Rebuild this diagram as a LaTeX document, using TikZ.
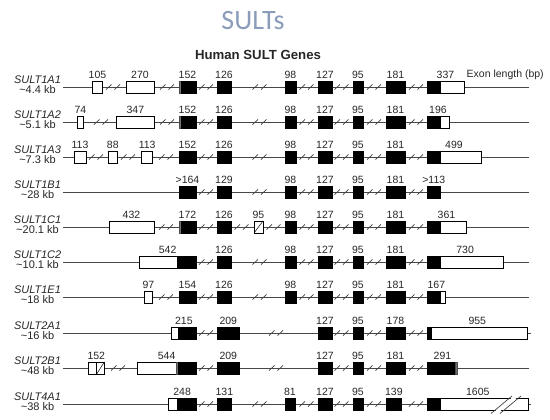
\documentclass[tikz,border=0pt]{standalone}
\usepackage{fontspec}
\setmainfont{Liberation Sans}
\newfontfamily\titlefont{Carlito}
\definecolor{titleblue}{RGB}{138,156,186}

% one exon box, with its length written above it
\newcommand\exonbox[5]{% name, left, right, style, label
  \node[#4, minimum width={(#3)-(#2)}] (#1) at ({((#2)+(#3))/2},\ry) {};
  \node[num] (#1l) at ({((#2)+(#3))/2},\ry-12.5) {#5};}
% an exon made of two parts (coding / non-coding)
\newcommand\exonpair[7]{% name, left, split, right, left style, right style, label
  \node[#5, minimum width={(#3)-(#2)}] (#1a) at ({((#2)+(#3))/2},\ry) {};
  \node[#6, minimum width={(#4)-(#3)}] (#1b) at ({((#3)+(#4))/2},\ry) {};
  \node[num] (#1l) at ({((#2)+(#4))/2},\ry-12.5) {#7};}
% the // mark of a shortened intron
\newcommand\introncut[1]{%
  \draw[cut] ({#1-7},\ry+2.6) -- ({#1-1.5},\ry-2.6) ({#1+1.5},\ry+2.6) -- ({#1+7},\ry-2.6);}
% gene backbone with its name and size
\newcommand\generow[4]{% id, name, size, right end
  \coordinate (#1s) at (63,\ry);
  \coordinate (#1t) at (#4,\ry);
  \draw[backbone] (#1s) -- (#1t);
  \node[gname] (#1n) at (37.5,\ry-7) {#2};
  \node[gsize] (#1k) at (37.5,\ry+3) {\textasciitilde#3};}
% the exons shared by most SULT1 genes
\newcommand\commonright[1]{%
  \exonbox{#1e98}{285}{296}{exB}{98}
  \exonbox{#1e127}{318}{332}{exB}{127}
  \exonbox{#1e95}{353}{363}{exB}{95}
  \exonbox{#1e181}{386}{405}{exB}{181}
  \introncut{306.5}\introncut{341.5}\introncut{374}\introncut{416}}

\begin{document}
\begin{tikzpicture}[x=1pt,y=-1pt,
  backbone/.style={draw=black!72, line width=0.9pt},
  exW/.style={draw=black, line width=0.6pt, fill=white, inner sep=0pt, outer sep=0pt, minimum height=12},
  exB/.style={exW, fill=black},
  exG/.style={exW, fill=black!55, draw=black!70},
  cut/.style={draw=black!75, line width=0.7pt},
  num/.style={font=\fontsize{10.5}{12}\selectfont, text=black!85, inner sep=0pt},
  gname/.style={font=\fontsize{11}{13}\selectfont\itshape, text=black!85, inner sep=0pt},
  gsize/.style={font=\fontsize{11}{13}\selectfont, text=black!85, inner sep=0pt}]
\useasboundingbox (0,0) rectangle (550,420);

\node[font=\fontsize{28}{30}\selectfont\titlefont, text=titleblue, inner sep=0pt] (title) at (253,20.5) {SULTs};
\node[font=\fontsize{13.2}{15}\selectfont\bfseries, text=black!85, inner sep=0pt] (head) at (258,55) {Human SULT Genes};
\node[num, anchor=west] (unit) at (466.5,74.5) {Exon length (bp)};

% SULT1A1
\def\ry{87}
\generow{a1}{SULT1A1}{4.4 kb}{529}
\exonbox{a1e1}{92.3}{102.7}{exW}{105}
\exonbox{a1e2}{126}{154}{exW}{270}
\exonpair{a1e3}{179}{181.5}{196}{exG}{exB}{152}
\exonbox{a1e4}{217}{231}{exB}{126}
\commonright{a1}
\exonpair{a1e9}{427}{440.5}{464}{exB}{exW}{337}
\introncut{113}\introncut{167}\introncut{206}\introncut{259.5}

% SULT1A2
\def\ry{122}
\generow{a2}{SULT1A2}{5.1 kb}{529}
\exonbox{a2e1}{77.7}{83.3}{exW}{74}
\exonbox{a2e2}{116.7}{154}{exW}{347}
\exonpair{a2e3}{179}{181.5}{196}{exG}{exB}{152}
\exonbox{a2e4}{217}{231}{exB}{126}
\commonright{a2}
\exonpair{a2e9}{427}{440.5}{449}{exB}{exW}{196}
\introncut{101}\introncut{167}\introncut{206}\introncut{259.5}

% SULT1A3
\def\ry{157}
\generow{a3}{SULT1A3}{7.3 kb}{529}
\exonbox{a3e1}{74}{86}{exW}{113}
\exonbox{a3e2}{108.3}{117.3}{exW}{88}
\exonbox{a3e3}{141.7}{152.7}{exW}{113}
\exonbox{a3e4}{179}{196}{exB}{152}
\exonbox{a3e5}{217}{231}{exB}{126}
\commonright{a3}
\exonpair{a3e9}{427}{440.5}{481}{exB}{exW}{499}
\introncut{96}\introncut{128}\introncut{166}\introncut{206}\introncut{259.5}

% SULT1B1
\def\ry{192}
\generow{b1}{SULT1B1}{28 kb}{529}
\exonbox{b1e1}{179}{196}{exB}{>164}
\exonbox{b1e2}{217}{231}{exB}{129}
\commonright{b1}
\exonbox{b1e7}{427}{440.5}{exB}{>113}
\introncut{206}\introncut{259.5}

% SULT1C1
\def\ry{227}
\generow{c1}{SULT1C1}{20.1 kb}{529}
\exonbox{c1e1}{109}{154}{exW}{432}
\exonpair{c1e2}{179}{181.5}{196}{exG}{exB}{172}
\exonbox{c1e3}{217}{231}{exB}{126}
\exonbox{c1e4}{254}{263}{exW}{95}
\draw[line width=0.5pt] (c1e4.south west) -- (c1e4.north east);
\commonright{c1}
\exonpair{c1e9}{427}{440.5}{466}{exB}{exW}{361}
\introncut{166}\introncut{206}\introncut{241.5}\introncut{273.5}

% SULT1C2
\def\ry{262}
\generow{c2}{SULT1C2}{10.1 kb}{529}
\exonpair{c2e1}{139.3}{177.3}{196}{exW}{exB}{542}
\exonbox{c2e2}{217}{231}{exB}{126}
\commonright{c2}
\exonpair{c2e7}{427}{440.5}{503.3}{exB}{exW}{730}
\introncut{206}\introncut{259.5}

% SULT1E1
\def\ry{297}
\generow{e1}{SULT1E1}{18 kb}{529}
\exonbox{e1e1}{144}{152.7}{exW}{97}
\exonbox{e1e2}{179}{196}{exB}{154}
\exonbox{e1e3}{217}{231}{exB}{126}
\commonright{e1}
\exonpair{e1e8}{427}{440.5}{445.7}{exB}{exW}{167}
\introncut{166}\introncut{206}\introncut{259.5}

% SULT2A1
\def\ry{333}
\generow{f1}{SULT2A1}{16 kb}{530.5}
\exonpair{f1e1}{171.7}{178.3}{196}{exW}{exB}{215}
\exonbox{f1e2}{217.3}{239.3}{exB}{209}
\exonbox{f1e3}{318}{332}{exB}{127}
\exonbox{f1e4}{353}{363}{exB}{95}
\exonbox{f1e5}{386}{405}{exB}{178}
\exonpair{f1e6}{427.3}{431.7}{527.3}{exB}{exW}{955}
\introncut{206}\introncut{276}\introncut{341.5}\introncut{374}\introncut{416}

% SULT2B1
\def\ry{368}
\generow{f2}{SULT2B1}{48 kb}{529}
\exonpair{f2e1}{88.3}{96.7}{104.3}{exW}{exW}{152}
\draw[line width=0.5pt] (f2e1b.south west) -- (f2e1b.north east);
\node[exW, minimum width=39.4] (f2e2a) at (157,\ry) {};
\node[exG, minimum width=2] (f2e2b) at (177.7,\ry) {};
\node[exB, minimum width=17.3] (f2e2c) at (187.35,\ry) {};
\node[num] (f2e2l) at (166.6,\ry-12.5) {544};
\exonbox{f2e3}{217.3}{239.3}{exB}{209}
\exonbox{f2e4}{318}{332}{exB}{127}
\exonbox{f2e5}{353}{363}{exB}{95}
\exonbox{f2e6}{386}{405}{exB}{181}
\exonpair{f2e7}{427.3}{455.7}{457.7}{exB}{exG}{291}
\introncut{118}\introncut{206}\introncut{276}\introncut{341.5}\introncut{374}\introncut{416}

% SULT4A1
\def\ry{404}
\generow{g1}{SULT4A1}{38 kb}{531}
\exonpair{g1e1}{168.3}{177.3}{196}{exW}{exB}{248}
\exonbox{g1e2}{217}{231.7}{exB}{131}
\exonbox{g1e3}{285}{295}{exB}{81}
\exonbox{g1e4}{318}{332}{exB}{127}
\exonbox{g1e5}{353}{363}{exB}{95}
\exonbox{g1e6}{386}{401.7}{exB}{139}
\exonpair{g1e7}{427.3}{440}{528.3}{exB}{exW}{1605}
\introncut{206}\introncut{259.5}\introncut{306.5}\introncut{341.5}\introncut{374}\introncut{416}
% long last exon shortened with a // cut
\fill[white] (494,\ry+8) -- (514,\ry-8) -- (519,\ry-8) -- (499,\ry+8) -- cycle;
\draw[cut, line width=0.7pt] (491,\ry+9.5) -- (512,\ry-8) (500,\ry+9.5) -- (521,\ry-8);
\end{tikzpicture}
\end{document}
